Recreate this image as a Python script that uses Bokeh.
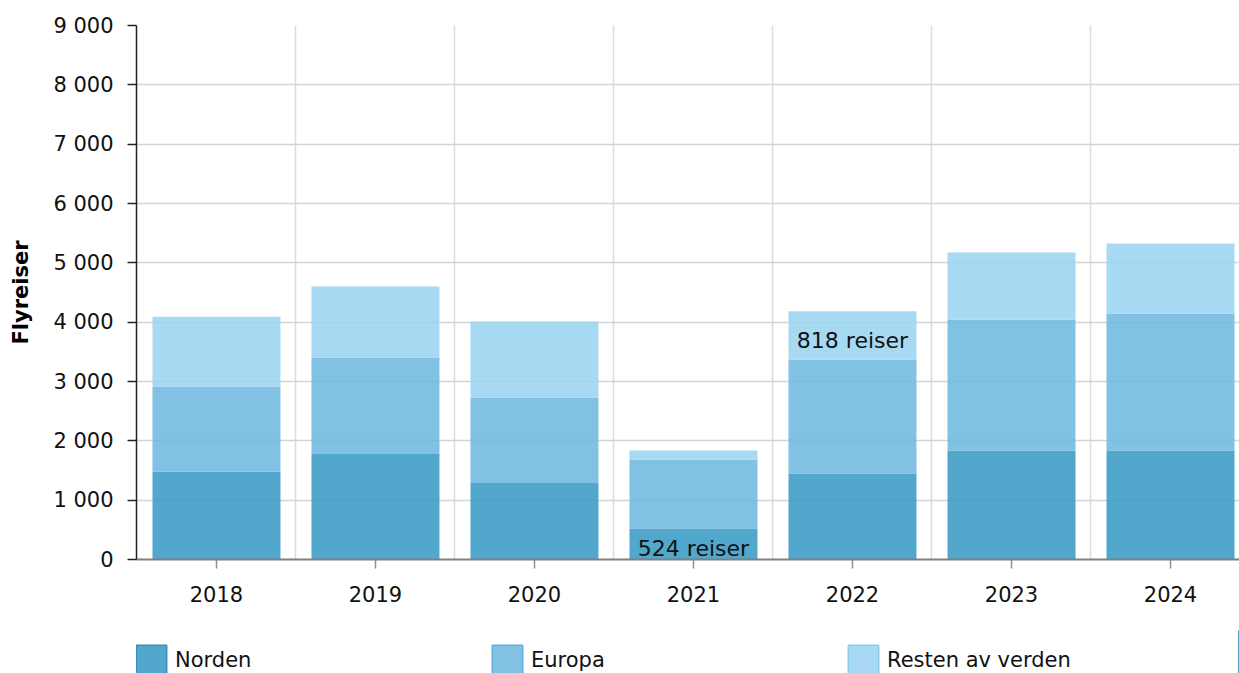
from bokeh.plotting import figure
from bokeh.layouts import column
from bokeh.models import (ColumnDataSource, Range1d, FixedTicker, Legend, LegendItem)
from bokeh.core.properties import value
from bokeh.embed import file_html
from bokeh.resources import INLINE

# ---- data ----
years = ["2018", "2019", "2020", "2021", "2022", "2023", "2024"]
norden = [1480, 1780, 1290, 524, 1445, 1835, 1835]
europa = [1430, 1625, 1440, 1156, 1922, 2205, 2305]
resten = [1180, 1195, 1280, 157, 818, 1135, 1185]
series_names = ["Norden", "Europa", "Resten av verden"]
y_ticks = [0, 1000, 2000, 3000, 4000, 5000, 6000, 7000, 8000, 9000]
y_tick_labels = ["0", "1 000", "2 000", "3 000", "4 000", "5 000", "6 000", "7 000", "8 000", "9 000"]
# annotations: (year, series, text)
ann_year = ["2021", "2022"]
ann_series = ["Norden", "Resten av verden"]
ann_text = ["524 reiser", "818 reiser"]

colors = ["#3a9bc6", "#6fb8e0", "#9bd4f0"]
border_colors = ["#3590bb", "#62addb", "#8ccbeb"]
FONT = "DejaVu Sans"
FS = "21px"

xs = list(range(len(years)))
src = ColumnDataSource(dict(x=xs, Norden=norden, Europa=europa, **{"Resten av verden": resten}))

p = figure(width=1239, height=630, output_backend="svg", toolbar_location=None,
           title=None, x_range=Range1d(-0.503, 6.434), y_range=Range1d(0, 9000),
           min_border_left=136, min_border_right=0, min_border_top=25, min_border_bottom=71)
p.outline_line_color = None

renderers = p.vbar_stack(series_names, x="x", width=0.805, source=src,
                         color=colors, fill_alpha=0.88, line_alpha=0)

# annotations placed at the middle of their segment
stack = {"Norden": norden, "Europa": europa, "Resten av verden": resten}
ax, ay = [], []
for yr, s in zip(ann_year, ann_series):
    i = years.index(yr)
    base = 0
    for name in series_names:
        if name == s:
            break
        base += stack[name][i]
    ax.append(i)
    ay.append(base + stack[s][i] / 2)
p.text(x=ax, y=ay, text=ann_text, text_align="center", text_baseline="middle",
       y_offset=5, text_font=value(FONT), text_font_size="22px", text_color="#111111")

# axes
p.xaxis.ticker = FixedTicker(ticks=xs)
p.xaxis.major_label_overrides = {i: y for i, y in zip(xs, years)}
p.yaxis.ticker = FixedTicker(ticks=y_ticks)
p.yaxis.major_label_overrides = {t: l for t, l in zip(y_ticks, y_tick_labels)}

for ax_ in (p.xaxis, p.yaxis):
    ax_.major_label_text_font = FONT
    ax_.major_label_text_font_size = FS
    ax_.major_label_text_color = "#111111"
    ax_.minor_tick_line_color = None
    ax_.major_tick_in = 0
    ax_.major_tick_out = 9

p.xaxis.axis_line_color = "#808080"
p.xaxis.axis_line_width = 2
p.xaxis.major_tick_line_color = "#909090"
p.xaxis.major_tick_line_width = 1.5
p.xaxis.major_label_standoff = 17

p.yaxis.axis_line_color = "#222222"
p.yaxis.axis_line_width = 1.5
p.yaxis.major_tick_line_color = "#222222"
p.yaxis.major_tick_line_width = 1.5
p.yaxis.major_label_standoff = 14
p.yaxis.axis_label = "Flyreiser"
p.yaxis.axis_label_text_font = FONT
p.yaxis.axis_label_text_font_size = FS
p.yaxis.axis_label_text_font_style = "bold"
p.yaxis.axis_label_text_color = "#000000"
p.yaxis.axis_label_standoff = 17

# grids
p.ygrid.ticker = FixedTicker(ticks=y_ticks)
p.ygrid.grid_line_color = "#d4d4d4"
p.ygrid.grid_line_width = 1.5
p.xgrid.ticker = FixedTicker(ticks=[i + 0.5 for i in xs[:-1]])
p.xgrid.grid_line_color = "#dcdcdc"
p.xgrid.grid_line_width = 1.5

# ---- legend strip (separate small figure below, its bars kept out of view) ----
lg = figure(width=1239, height=43, output_backend="svg", toolbar_location=None,
            title=None, x_range=Range1d(-1000, -999), y_range=Range1d(0, 1),
            x_axis_location=None, y_axis_location=None,
            min_border_left=0, min_border_right=0, min_border_top=0, min_border_bottom=0)
lg.outline_line_color = None
lg.grid.visible = False
lg_renderers = lg.vbar_stack(series_names, x="x", width=0.805, source=src,
                             fill_color=colors, fill_alpha=0.88,
                             line_color=border_colors, line_width=1.5)
legend = Legend(items=[LegendItem(label=n, renderers=[r]) for n, r in zip(series_names, lg_renderers)],
                orientation="horizontal", location=(-4, -6),
                glyph_width=38, glyph_height=38, label_standoff=5, label_width=313,
                spacing=0, padding=0, margin=0, border_line_color=None,
                background_fill_alpha=0,
                label_text_font=FONT, label_text_font_size=FS, label_text_color="#111111")
lg.add_layout(legend)

layout = column(p, lg, spacing=0)
open("out.html", "w").write(file_html(layout, INLINE))
